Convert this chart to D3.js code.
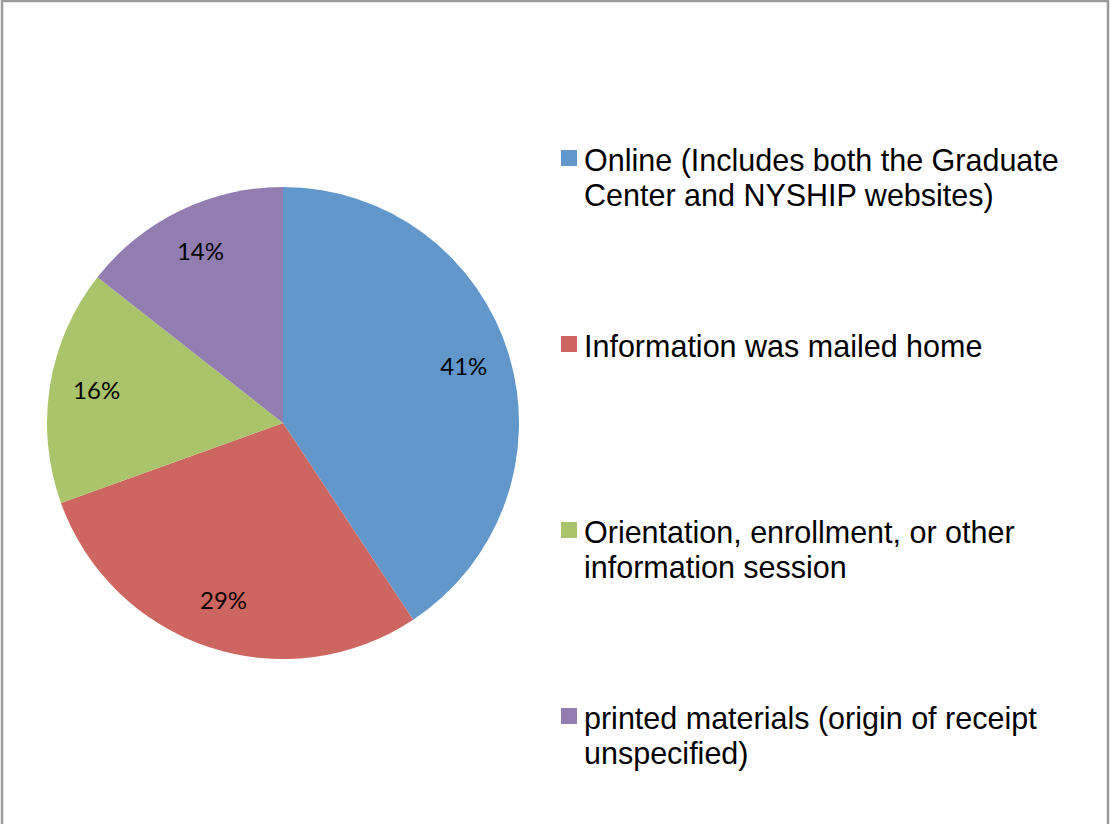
<!DOCTYPE html>
<html>
<head>
<meta charset="utf-8">
<script src="https://cdn.jsdelivr.net/npm/d3@7"></script>
<style>
  body { margin: 0; background: #fff; }
  svg { display: block; }
</style>
</head>
<body>
<div class="chart"></div>
<script>
// sources of information (share of respondents, %)
const categories = [
    "Online (Includes both the Graduate Center and NYSHIP websites)",
    "Information was mailed home",
    "Orientation, enrollment, or other information session",
    "printed materials (origin of receipt unspecified)"
];
const legendLines = [
    ["Online (Includes both the Graduate", "Center and NYSHIP websites)"],
    ["Information was mailed home"],
    ["Orientation, enrollment, or other", "information session"],
    ["printed materials (origin of receipt", "unspecified)"]
];
const values = [40.7, 28.8, 16.1, 14.4];
const colors = ["#6197CB", "#CD6660", "#A9C46A", "#927CB0"];

function draw(){
    const width = 1110, height = 824;

    const svg = d3.select('.chart').append('svg')
        .attr("width", width)
        .attr("height", height);

    // frame (no bottom edge in the picture)
    svg.append("path")
        .attr("d", `M2,${height} V1 H1108 V${height}`)
        .attr("fill", "none")
        .attr("stroke", "#9a9a9a")
        .attr("stroke-width", 2.5);

    const cx = 283, cy = 423, radius = 236;

    const data = categories.map((c, i) => ({name: c, value: values[i], color: colors[i]}));
    const total = d3.sum(values);

    const pie = d3.pie().sort(null).value(d => d.value);
    const arc = d3.arc().innerRadius(0).outerRadius(radius);
    const labelArc = d3.arc().innerRadius(radius * 0.8).outerRadius(radius * 0.8);

    const g = svg.append("g").attr("transform", `translate(${cx},${cy})`);

    const slices = pie(data);

    g.selectAll("path.slice")
        .data(slices)
        .enter()
        .append("path")
        .attr("class", "slice")
        .attr("d", arc)
        .attr("fill", d => d.data.color);

    g.selectAll("text.lbl")
        .data(slices)
        .enter()
        .append("text")
        .attr("class", "lbl")
        .attr("transform", d => {
            const c = labelArc.centroid(d);
            return `translate(${c[0]},${c[1] - 3})`;
        })
        .attr("text-anchor", "middle")
        .attr("dominant-baseline", "central")
        .style("font-family", "Lato, 'Open Sans', sans-serif")
        .style("font-size", "24px")
        .style("fill", "#000")
        .text(d => d3.format(".0%")(d.data.value / total));

    // legend
    const legendY = d3.scalePoint()
        .domain(categories)
        .range([158, 716]);

    const legend = svg.append("g").attr("id", "legend");

    const item = legend.selectAll("g")
        .data(data)
        .enter()
        .append("g")
        .attr("transform", d => `translate(561,${legendY(d.name)})`);

    item.append("rect")
        .attr("x", 0)
        .attr("y", -8)
        .attr("width", 16)
        .attr("height", 16)
        .attr("fill", d => d.color);

    item.append("text")
        .style("font-family", "'Liberation Sans', Arial, sans-serif")
        .style("font-size", "30.5px")
        .style("fill", "#000")
        .each(function(d, i){
            const t = d3.select(this);
            legendLines[i].forEach((line, j) => {
                t.append("tspan")
                    .attr("x", 23)
                    .attr("y", 13 + j * 35)
                    .text(line);
            });
        });
}

draw();
</script>
</body>
</html>
